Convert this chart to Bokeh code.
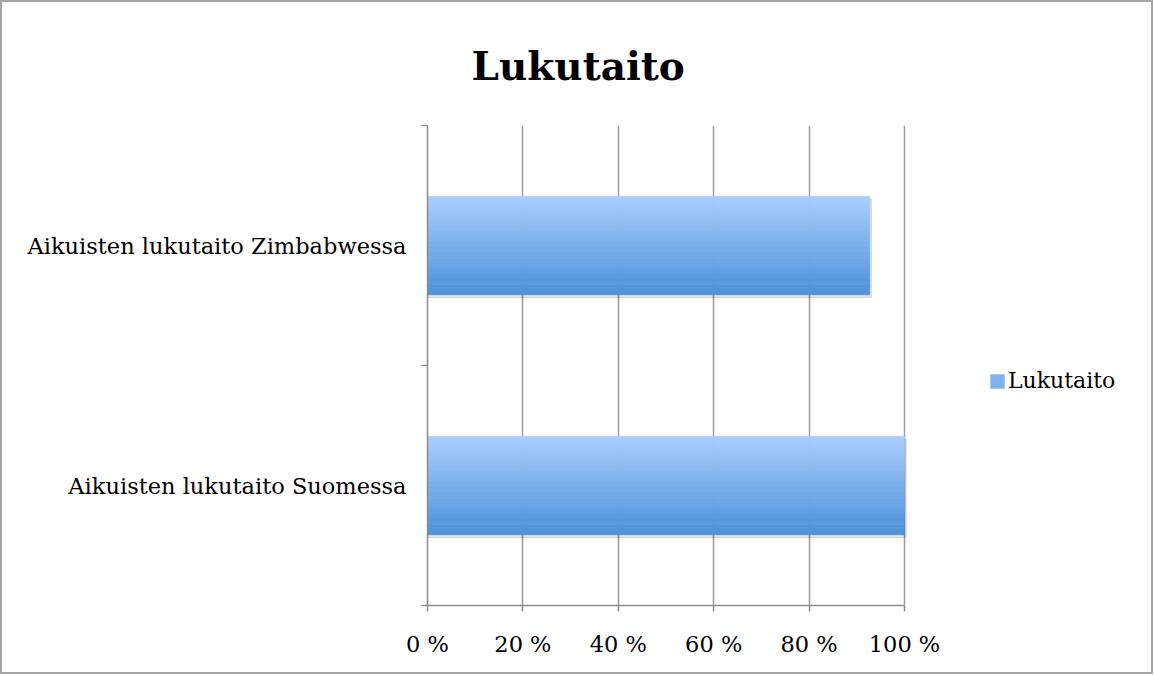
from bokeh.plotting import figure
from bokeh.models import (FixedTicker, Range1d, Legend, LegendItem)
from bokeh.embed import file_html
from bokeh.resources import INLINE

# ---- data ----
categories = ["Aikuisten lukutaito Suomessa", "Aikuisten lukutaito Zimbabwessa"]
values = [100, 92.7]
series_name = "Lukutaito"
title_text = "Lukutaito"
x_ticks = [0, 20, 40, 60, 80, 100]
x_tick_labels = ["0 %", "20 %", "40 %", "60 %", "80 %", "100 %"]

FONT = "DejaVu Serif"

W, H = 1153, 674
LEFT, TOP = 425, 123
AXIS_PX = 477
FRAME_PX = 713
FRAME_H = 480
x_end = 100 * FRAME_PX / AXIS_PX

p = figure(width=W, height=H, output_backend="svg", toolbar_location=None,
           x_range=Range1d(0, x_end), y_range=Range1d(0, len(categories)),
           min_border_left=LEFT, min_border_right=W - LEFT - FRAME_PX,
           min_border_top=TOP, min_border_bottom=H - TOP - FRAME_H)
p.styles = {"border": "2px solid #a6a6a6", "box-sizing": "border-box"}
p.outline_line_color = None
p.background_fill_color = "white"
p.border_fill_color = "white"

# title
p.title.text = title_text
p.title.text_font = FONT
p.title.text_font_style = "bold"
p.title.text_font_size = "39px"
p.title.align = "left"
p.title.offset = 44
p.title.standoff = 74
p.title.text_color = "black"

centers = [i + 0.5 for i in range(len(categories))]
bar_h = 0.41

# shadow
p.hbar(y=[c - 0.012 for c in centers], left=0, right=[v + 0.35 for v in values],
       height=bar_h, color="#000000", alpha=0.12)

# gradient strips
N = 40
top = (170, 206, 253)
bot = (76, 145, 217)
strip_h = bar_h / N
for i in range(N):
    t = i / (N - 1)
    col = tuple(int(round(top[k] + (bot[k] - top[k]) * t)) for k in range(3))
    hexcol = "#%02x%02x%02x" % col
    ys = [c + bar_h / 2 - strip_h * (i + 0.5) for c in centers]
    p.hbar(y=ys, left=0, right=values, height=strip_h, fill_color=hexcol,
           line_color=hexcol, line_width=0.6)

legend_r = p.hbar(y=[-5], left=0, right=[1], height=0.1, color="#80b2ee", line_color=None)

# x axis
xa = p.xaxis[0]
xa.bounds = (0, 100)
xa.ticker = FixedTicker(ticks=x_ticks)
xa.major_label_overrides = {t: l for t, l in zip(x_ticks, x_tick_labels)}
xa.major_label_text_font = FONT
xa.major_label_text_font_size = "22.5px"
xa.major_label_text_color = "black"
xa.axis_line_color = "#8c8c8c"
xa.axis_line_width = 1.5
xa.major_tick_line_color = "#8c8c8c"
xa.major_tick_line_width = 1.5
xa.major_tick_out = 6
xa.major_tick_in = 0
xa.minor_tick_line_color = None
xa.major_label_standoff = 19

# y axis
ya = p.yaxis[0]
ya.ticker = FixedTicker(ticks=centers, minor_ticks=list(range(len(categories) + 1)))
ya.major_label_overrides = {c: l for c, l in zip(centers, categories)}
ya.major_label_text_font = FONT
ya.major_label_text_font_size = "22.5px"
ya.major_label_text_color = "black"
ya.axis_line_color = "#8c8c8c"
ya.axis_line_width = 1.5
ya.major_tick_line_color = None
ya.minor_tick_line_color = "#8c8c8c"
ya.minor_tick_line_width = 1.5
ya.minor_tick_out = 6
ya.minor_tick_in = 0
ya.major_label_standoff = 15

p.xgrid.ticker = FixedTicker(ticks=x_ticks)
p.xgrid.bounds = (0, 100)
p.xgrid.grid_line_color = "#9a9a9a"
p.xgrid.grid_line_width = 1.5
p.ygrid.grid_line_color = None

legend = Legend(items=[LegendItem(label=series_name, renderers=[legend_r])],
                location=(561, 212), padding=0, margin=0, spacing=0,
                glyph_width=18, glyph_height=18, label_standoff=2,
                label_text_font=FONT, label_text_font_size="22px",
                label_text_color="black",
                border_line_color=None, background_fill_alpha=0)
p.add_layout(legend, "center")

open("out.html", "w").write(file_html(p, INLINE))
